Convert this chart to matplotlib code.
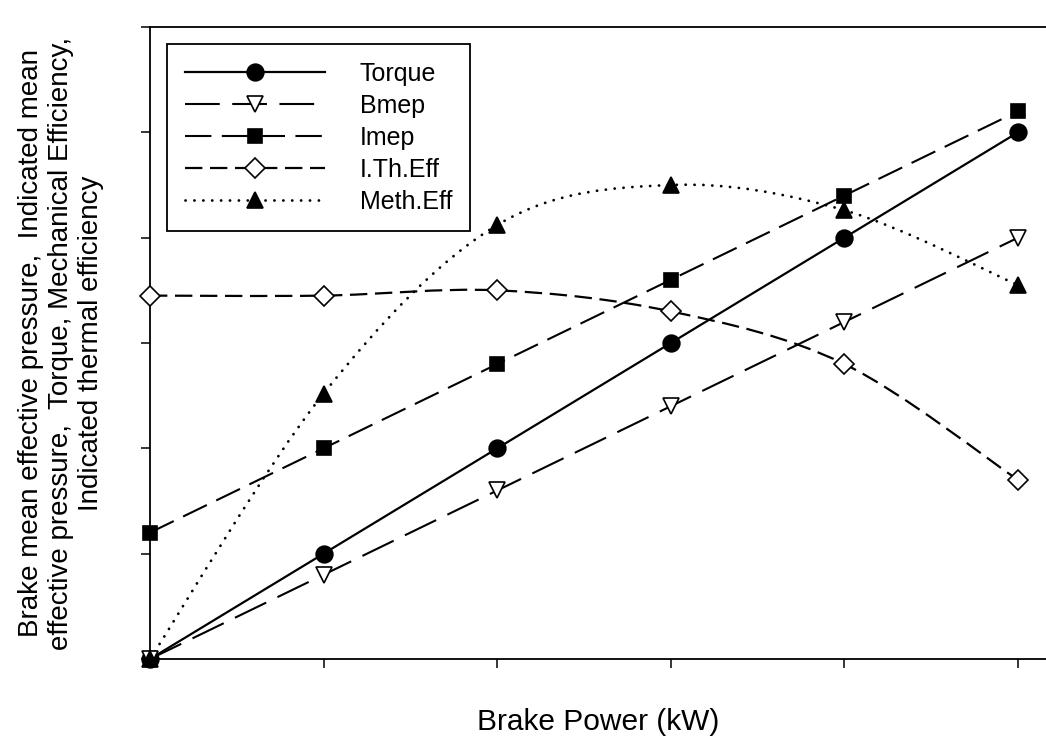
import numpy as np
import matplotlib
matplotlib.use('Agg')
import matplotlib.pyplot as plt
from matplotlib.path import Path
from matplotlib.patches import PathPatch
from matplotlib.lines import Line2D

plt.rcParams['font.family'] = ['Liberation Sans', 'DejaVu Sans']
plt.rcParams['lines.scale_dashes'] = False

# ── Data (arbitrary units) ─────────────────────────────────────────────────
power    = [0, 1, 2, 3, 4, 5]
torque   = [0, 1.0, 2.0, 3.0, 4.0, 5.0]
bmep     = [0, 0.8, 1.6, 2.4, 3.2, 4.0]
imep     = [1.2, 2.0, 2.8, 3.6, 4.4, 5.2]
ith_eff  = [3.45, 3.45, 3.5, 3.3, 2.8, 1.7]
meth_eff = [0, 2.52, 4.12, 4.5, 4.26, 3.55]


def smooth_path(xs, ys):
    # Catmull-Rom curve through the points, written as cubic Bezier segments
    pts = np.column_stack([xs, ys]).astype(float)
    ext = np.vstack([pts[0], pts, pts[-1]])
    verts, codes = [pts[0]], [Path.MOVETO]
    for i in range(len(pts) - 1):
        p0, p1, p2, p3 = ext[i], ext[i + 1], ext[i + 2], ext[i + 3]
        verts += [p1 + (p2 - p0) / 6, p2 - (p3 - p1) / 6, p2]
        codes += [Path.CURVE4] * 3
    return Path(verts, codes)


fig = plt.figure(figsize=(10.46, 7.42), dpi=100)
ax = fig.add_axes([150 / 1046, 83 / 742, 896 / 1046, 632 / 742])

series = [
    # label, y, marker, face, linestyle, smooth, markersize, linewidth
    ('Torque',    torque,   'o', 'black', '-',               False, 12,   1.6),
    ('Bmep',      bmep,     'v', 'white', (0, (25, 9)),      False, 11.5, 1.5),
    ('Imep',      imep,     's', 'black', (0, (19, 7.5)),    False, 10.5, 1.5),
    ('I.Th.Eff',  ith_eff,  'D', 'white', (0, (12.5, 5.5)),  True,  10,   1.6),
    ('Meth.Eff',  meth_eff, '^', 'black', (0, (0.1, 6.3)),   True,  11.5, 2.0),
]

handles = []
for label, y, mk, face, ls, smooth, ms, lw in series:
    cap = 'round' if label == 'Meth.Eff' else 'butt'
    if smooth:
        patch = PathPatch(smooth_path(power, y), fill=False, edgecolor='black',
                          linewidth=lw, linestyle=ls, zorder=2, clip_on=False)
        patch.set_capstyle(cap)
        ax.add_patch(patch)
    else:
        ax.plot(power, y, color='black', linewidth=lw, linestyle=ls,
                dash_capstyle=cap, zorder=2, clip_on=False)
    ax.plot(power, y, linestyle='none', marker=mk, markersize=ms,
            markerfacecolor=face, markeredgecolor='black', markeredgewidth=1.2,
            zorder=3, clip_on=False)
    handles.append(Line2D([0], [0], color='black', linewidth=lw, linestyle=ls,
                          dash_capstyle=cap, marker=mk, markersize=ms,
                          markerfacecolor=face, markeredgecolor='black',
                          markeredgewidth=1.2, label=label))

ax.set_xlim(0, 5.161)
ax.set_ylim(0, 6)
ax.set_xticks(range(0, 6))
ax.set_yticks(range(0, 7))
ax.set_xticklabels([])
ax.set_yticklabels([])
ax.tick_params(direction='out', length=6.5, width=1.1, color='black')
ax.spines['right'].set_visible(False)
for s in ('left', 'bottom', 'top'):
    ax.spines[s].set_linewidth(1.3)

ax.set_xlabel('Brake Power (kW)', fontsize=21.5)
ax.xaxis.set_label_coords(0.5, -0.077)
ax.xaxis.label.set_va('top')

ax.set_ylabel('Brake mean effective pressure,  Indicated mean\n'
              'effective pressure,  Torque, Mechanical Efficiency,\n'
              'Indicated thermal efficiency', fontsize=20, linespacing=1.22)
ax.yaxis.set_label_coords(-0.051, 0.5)

leg = ax.legend(handles=handles, loc='upper left', bbox_to_anchor=(0.019, 0.973),
                borderaxespad=0, fontsize=18, handlelength=5.6, handletextpad=1.4,
                labelspacing=0.32, borderpad=0.7, fancybox=False, framealpha=1,
                edgecolor='black', numpoints=1)
leg.get_frame().set_linewidth(1.3)

plt.savefig('out.png', dpi=100)
